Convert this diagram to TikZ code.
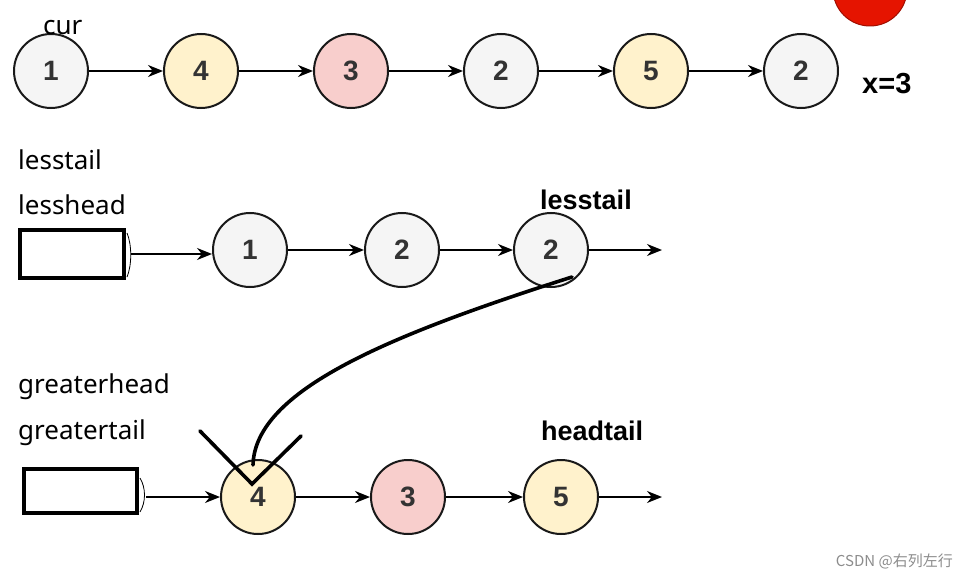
\documentclass[tikz,border=0pt]{standalone}
\usepackage{fontspec}
\setmainfont{Noto Sans}
\newfontfamily\numfont{Liberation Sans}
\newfontfamily\cjk{Noto Sans CJK SC}
\usepackage{tikz}
\usetikzlibrary{arrows.meta,positioning}
\definecolor{ndgray}{HTML}{F5F5F5}
\definecolor{ndyel}{HTML}{FFF2CC}
\definecolor{ndpink}{HTML}{F8CECC}
\definecolor{ballred}{HTML}{E51400}
\tikzset{
  nd/.style={draw=black!90,circle,line width=2pt,minimum size=74pt,inner sep=0pt,fill=#1,font=\numfont\bfseries\fontsize{28}{28}\selectfont,text=black!80},
  nd/.default={ndgray},
  arr/.style={-{Stealth[length=15pt,width=12pt]},line width=1.8pt},
  lbl/.style={font=\fontsize{26}{28}\selectfont,anchor=base west,inner sep=0pt},
  blbl/.style={font=\numfont\bfseries\fontsize{27}{29}\selectfont,anchor=base west,inner sep=0pt},
  hbox/.style={draw,line width=4pt,inner sep=0pt,fill=white},
  pen/.style={line width=3.6pt,line cap=round,line join=miter},
}

\begin{document}
\begin{tikzpicture}[x=1pt,y=-1pt]
 \useasboundingbox (0,0) rectangle (970,578);
 % input list
 \node[circle,fill=ballred,draw=ballred!70!black,line width=1pt,minimum size=74pt] (ball) at (870,-11){};
 \foreach \i/\v/\c in {0/1/ndgray,1/4/ndyel,2/3/ndpink,3/2/ndgray,4/5/ndyel,5/2/ndgray}{\node[nd=\c] (t\i) at (51+\i*150,71){\v};}
 \foreach \i/\j in {0/1,1/2,2/3,3/4,4/5}{\draw[arr] (t\i) -- (t\j);}
 \node[lbl] (cur) at (43,35){cur};
 \node[blbl,font=\numfont\bfseries\fontsize{29}{31}\selectfont] (xval) at (862,94){x=3};
 % less list
 \node[lbl] (lt) at (18,169){lesstail};
 \node[lbl] (lh) at (18,214){lesshead};
 \draw[line width=0.8pt] (127,233) .. controls (132,245) and (132,265) .. (127,277);
 \node[hbox,minimum width=104pt,minimum height=48pt] (lbox) at (72,254){};
 \foreach \i/\v/\x in {1/1/250,2/2/402,3/2/551}{\node[nd] (l\i) at (\x,250){\v};}
 \draw[arr] ([xshift=5pt]lbox.east) -- (l1.west |- lbox.east);
 \draw[arr] (l1) -- (l2);
 \draw[arr] (l2) -- (l3);
 \coordinate (lend) at (662,250);
 \draw[arr] (l3) -- (lend);
 \node[blbl] (ltb) at (540,209){lesstail};
 % greater list
 \node[lbl] (gh) at (18,393){greaterhead};
 \node[lbl] (gt) at (18,439){greatertail};
 \draw[line width=0.8pt] (140,478) .. controls (146,488) and (146,502) .. (140,512);
 \node[hbox,minimum width=113pt,minimum height=44pt] (gbox) at (80.5,491){};
 \foreach \i/\v/\x/\c in {1/4/258/ndyel,2/3/408/ndpink,3/5/561/ndyel}{\node[nd=\c] (g\i) at (\x,497){\v};}
 \draw[arr] ([xshift=7pt]gbox.east |- g1) -- (g1.west);
 \draw[arr] (g1) -- (g2);
 \draw[arr] (g2) -- (g3);
 \coordinate (gend) at (662,497);
 \draw[arr] (g3) -- (gend);
 \node[blbl] (htb) at (541,440){headtail};
 % hand-drawn link
 \coordinate (cs) at (572,277);
 \coordinate (ce) at (253,465);
 \draw[pen] (cs) .. controls (390,335) and (255,390) .. (ce);
 \coordinate (vtip) at (252,484);
 \draw[pen] (200,431) -- (vtip) -- (301,436);
 \node[font=\cjk\fontsize{15}{15}\selectfont,text=black!45,anchor=base east,inner sep=0pt] (wm) at (953,566){CSDN @右列左行};
\end{tikzpicture}
\end{document}
